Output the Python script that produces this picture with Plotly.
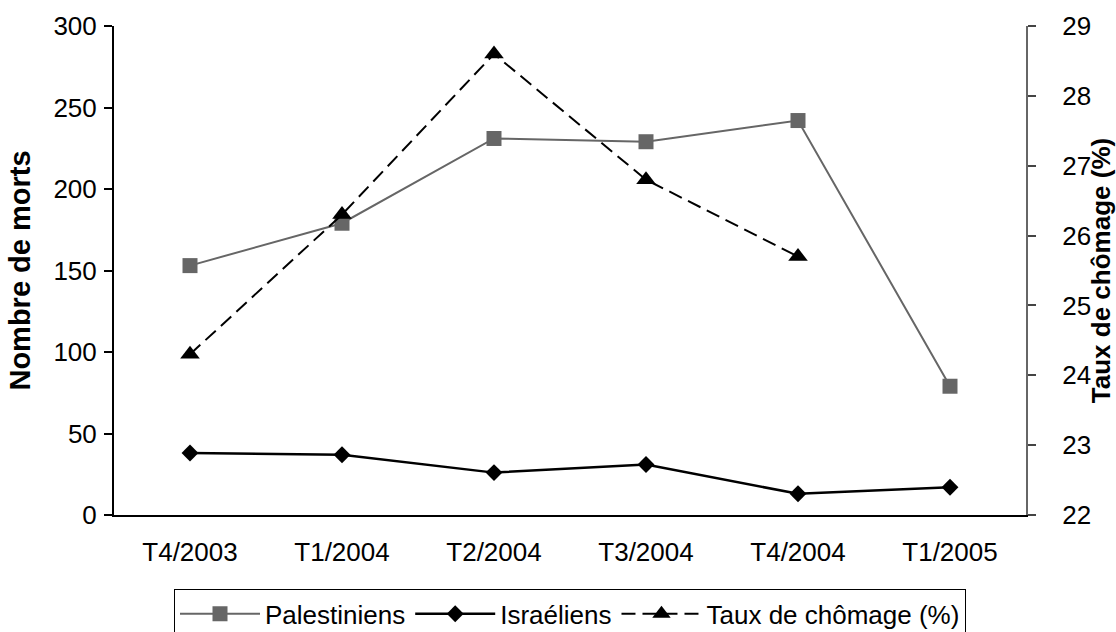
import plotly.graph_objects as go

categories = ["T4/2003", "T1/2004", "T2/2004", "T3/2004", "T4/2004", "T1/2005"]
palestiniens = [153, 179, 231, 229, 242, 79]
israeliens = [38, 37, 26, 31, 13, 17]
chomage = [24.3, 26.3, 28.6, 26.8, 25.7]

left_ticks = [0, 50, 100, 150, 200, 250, 300]
right_ticks = [22, 23, 24, 25, 26, 27, 28, 29]

FONT = "Liberation Sans, Arial, sans-serif"
boundaries = [i - 0.5 for i in range(len(categories) + 1)]

fig = go.Figure()
fig.add_trace(go.Scatter(
    x=categories, y=palestiniens, name="Palestiniens", mode="lines+markers",
    line=dict(color="#666666", width=2),
    marker=dict(symbol="square", size=15, color="#666666"),
    xaxis="x", yaxis="y"))
fig.add_trace(go.Scatter(
    x=categories, y=israeliens, name="Israéliens", mode="lines+markers",
    line=dict(color="#000000", width=2.5),
    marker=dict(symbol="diamond", size=13, color="#000000"),
    xaxis="x", yaxis="y"))
fig.add_trace(go.Scatter(
    x=categories[:len(chomage)], y=chomage, name="Taux de chômage (%)",
    mode="lines+markers",
    line=dict(color="#000000", width=2, dash="14px,7px"),
    marker=dict(symbol="triangle-up", size=17, color="#000000"),
    xaxis="x", yaxis="y2"))

tickfont = dict(family=FONT, size=26, color="#000000")

fig.update_layout(
    width=1116, height=632,
    margin=dict(l=114, r=90, t=26, b=117, autoexpand=False),
    paper_bgcolor="white", plot_bgcolor="white",
    font=dict(family=FONT, size=26, color="#000000"),
    showlegend=True,
    legend=dict(
        orientation="h", x=0.5, xanchor="center", y=-0.152, yanchor="top",
        bordercolor="#000000", borderwidth=1, bgcolor="white",
        font=dict(family=FONT, size=26, color="#000000"),
        itemwidth=80, tracegroupgap=0,
    ),
    xaxis=dict(
        type="category", categoryorder="array", categoryarray=categories,
        range=[-0.5, len(categories) - 0.5],
        showline=True, linecolor="#000000", linewidth=2,
        ticks="", showgrid=False, zeroline=False,
        tickfont=tickfont, ticklabelstandoff=13,
    ),
    xaxis2=dict(
        overlaying="x", anchor="y", side="bottom", type="linear",
        range=[-0.5, len(categories) - 0.5],
        tickmode="array", tickvals=boundaries, ticks="outside", ticklen=8,
        tickcolor="#000000", tickwidth=1.5,
        showticklabels=False, showline=False, showgrid=False, zeroline=False,
    ),
    xaxis3=dict(
        overlaying="x", anchor="y", side="bottom", type="linear",
        range=[-0.5, len(categories) - 0.5],
        tickmode="array", tickvals=boundaries, ticks="inside", ticklen=8,
        tickcolor="#000000", tickwidth=1.5,
        showticklabels=False, showline=False, showgrid=False, zeroline=False,
    ),
    xaxis4=dict(
        overlaying="x", anchor="y", side="top", type="linear",
        range=[-0.5, len(categories) - 0.5],
        showline=True, linecolor="#888888", linewidth=2,
        ticks="", showticklabels=False, showgrid=False, zeroline=False,
    ),
    yaxis=dict(
        range=[0, 300], tickmode="array", tickvals=left_ticks,
        showline=True, linecolor="#000000", linewidth=2,
        ticks="outside", ticklen=8, tickcolor="#000000", tickwidth=1.5,
        showgrid=False, zeroline=False, tickfont=tickfont,
        ticklabelstandoff=2,
        title=dict(text="<b>Nombre de morts</b>", standoff=14,
                   font=dict(family=FONT, size=29, color="#000000")),
    ),
    yaxis3=dict(
        overlaying="y", anchor="x", side="left",
        range=[0, 300], tickmode="array", tickvals=left_ticks,
        ticks="inside", ticklen=8, tickcolor="#000000", tickwidth=1.5,
        showticklabels=False, showline=False, showgrid=False, zeroline=False,
    ),
    yaxis2=dict(
        overlaying="y", anchor="x", side="right",
        range=[22, 29], tickmode="array", tickvals=right_ticks,
        showline=True, linecolor="#666666", linewidth=2,
        ticks="outside", ticklen=8, tickcolor="#444444", tickwidth=1.5,
        showgrid=False, zeroline=False, tickfont=tickfont,
        ticklabelstandoff=21,
        title=dict(text="<b>Taux de chômage (%)</b>", standoff=7,
                   font=dict(family=FONT, size=26, color="#000000")),
    ),
    yaxis4=dict(
        overlaying="y", anchor="x", side="right",
        range=[22, 29], tickmode="array", tickvals=right_ticks,
        ticks="inside", ticklen=8, tickcolor="#444444", tickwidth=1.5,
        showticklabels=False, showline=False, showgrid=False, zeroline=False,
    ),
)

fig.write_html(
    "out.html",
    config={"displayModeBar": False},
    post_script="document.body.style.margin='0';document.body.style.overflow='hidden';",
)
